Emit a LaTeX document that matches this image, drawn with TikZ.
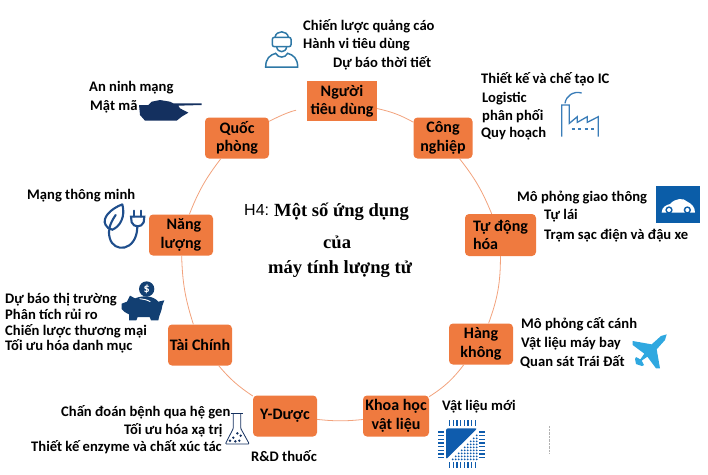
\documentclass[tikz,border=0pt]{standalone}
\usepackage{fontspec}
\setmainfont{Carlito}
\newfontfamily\titlefont{Liberation Serif}
\newfontfamily\labelfont{Liberation Sans}
\definecolor{boxorange}{HTML}{EF7A3F}
\definecolor{ringorange}{HTML}{F2A27C}
\definecolor{personblue}{HTML}{2E78A6}
\definecolor{factoryblue}{HTML}{3A7DB8}
\definecolor{carblue}{HTML}{0B5DA8}
\definecolor{tankblue}{HTML}{14305F}
\definecolor{plugblue}{HTML}{1F4E8C}
\definecolor{pigblue}{HTML}{123F72}
\definecolor{planeblue}{HTML}{2FA8E0}
\definecolor{chipblue}{HTML}{0F5CAD}
\tikzset{
  sector/.style={fill=boxorange, rounded corners=4pt, minimum width=64pt, minimum height=41pt,
    inner sep=0pt, align=center, font=\fontsize{16}{18.5}\selectfont\bfseries},
  topic/.style={anchor=west, inner sep=0pt, text height=12pt, text depth=3pt,
    font=\fontsize{14.6}{16}\selectfont\bfseries},
  headline/.style={anchor=west, inner sep=0pt, font=\fontsize{18.6}{20}\selectfont\titlefont\bfseries},
  ring/.style={ringorange, line width=0.8pt},
}
\begin{document}
\begin{tikzpicture}[x=1pt,y=-1pt]
        \useasboundingbox (0,0) rectangle (708,474);
        % Sectors on the ring:
        \node [sector, rounded corners=0pt, minimum width=70pt, minimum height=40pt] (nguoi) at (342,101) {Người\\tiêu dùng};
        \node [sector, minimum width=59pt] (congnghiep) at (443,138) {Công\\nghiệp};
        \node [sector, minimum width=71pt, minimum height=42pt, align=left] (tudong) at (500.5,235) {Tự động\\hóa};
        \node [sector] (hangkhong) at (481,344) {Hàng\\không};
        \node [sector, minimum width=66pt] (khoahoc) at (396,416) {Khoa học\\vật liệu};
        \node [sector] (yduoc) at (285,416) {Y-Dược};
        \node [sector] (taichinh) at (200,345) {Tài Chính};
        \node [sector, align=right] (nangluong) at (181,235) {Năng\\lượng};
        \node [sector] (quocphong) at (237,138) {Quốc\\phòng};

        % Ring:
        \draw [ring] (nguoi) to[bend left=8] (congnghiep);
        \draw [ring] (congnghiep) to[bend left=8] (tudong);
        \draw [ring] (tudong) to[bend left=10] (hangkhong);
        \draw [ring] (hangkhong) to[bend left=10] (khoahoc);
        \draw [ring] (khoahoc) to[bend left=6] (yduoc);
        \draw [ring] (yduoc) to[bend left=8] (taichinh);
        \draw [ring] (taichinh) to[bend left=8] (nangluong);
        \draw [ring] (nangluong) to[bend left=8] (quocphong);
        \draw [ring, shorten >=11pt] (quocphong) to[bend left=8] (nguoi);

        % Title:
        \node [anchor=west, inner sep=0pt, font=\fontsize{16}{18}\selectfont\labelfont] (hbon) at (244,210) {H4:};
        \node [headline] (tieude) at (274,211.5) {Một số ứng dụng};
        \node [headline] (cua) at (323,242) {của};
        \node [headline] (maytinh) at (268,269.5) {máy tính lượng tử};

        % Topics:
        \node [topic] (chienluoc) at (303,26) {Chiến lược quảng cáo};
        \node [topic] (hanhvi) at (303,44) {Hành vi tiêu dùng};
        \node [topic] (thoitiet) at (333,63) {Dự báo thời tiết};
        \node [topic] (thietke) at (481,79) {Thiết kế và chế tạo IC};
        \node [topic] (logistic) at (482,98) {Logistic};
        \node [topic] (phanphoi) at (482,116) {phân phối};
        \node [topic] (quyhoach) at (481,133) {Quy hoạch};
        \node [topic] (giaothong) at (517,197) {Mô phỏng giao thông};
        \node [topic] (tulai) at (544,215) {Tự lái};
        \node [topic] (tramsac) at (544,235) {Trạm sạc điện và đậu xe};
        \node [topic] (catcanh) at (521,324) {Mô phỏng cất cánh};
        \node [topic] (maybay) at (521,343) {Vật liệu máy bay};
        \node [topic] (traidat) at (520,362) {Quan sát Trái Đất};
        \node [topic] (vatlieu) at (442,406) {Vật liệu mới};
        \node [topic] (rnd) at (251,457) {R\&D thuốc};
        \node [topic] (chandoan) at (61,412) {Chấn đoán bệnh qua hệ gen};
        \node [topic] (xatri) at (124,430) {Tối ưu hóa xạ trị};
        \node [topic] (enzyme) at (31,447) {Thiết kế enzyme và chất xúc tác};
        \node [topic] (thitruong) at (5,299) {Dự báo thị trường};
        \node [topic] (ruiro) at (5,315) {Phân tích rủi ro};
        \node [topic] (thuongmai) at (5,331) {Chiến lược thương mại};
        \node [topic] (danhmuc) at (5,346) {Tối ưu hóa danh mục};
        \node [topic] (thongminh) at (27,195) {Mạng thông minh};
        \node [topic] (anninh) at (89,87) {An ninh mạng};
        \node [topic] (matma) at (90,106) {Mật mã};

        % Person:
        \begin{scope}[shift={(220,0)},scale=1/3,personblue,line width=1.5pt]
        \draw [rounded corners=2pt] (157,112) rectangle (213,140);
        \draw (165,112) .. controls (168,90) and (202,90) .. (205,112);
        \draw (170,140) .. controls (172,160) and (198,160) .. (200,140);
        \draw (137,201) .. controls (137,175) and (150,165) .. (167,160)
            .. controls (175,175) and (195,175) .. (203,160) .. controls (220,165) and (233,175) .. (233,201) -- cycle;
        \end{scope}
        % Factory:
        \begin{scope}[shift={(470,60)},scale=1/3,factoryblue,line width=1.3pt]
        \draw (275,230) -- (275,135) -- (298,135) -- (298,190) -- (322,170) -- (322,187) -- (352,170) -- (352,187) -- (385,170) -- (385,230);
        \draw (285,130) .. controls (288,108) and (310,92) .. (335,99);
        \draw [dash pattern=on 3pt off 3.5pt] (305,207) -- (378,207);
        \end{scope}
        % Car:
        \begin{scope}[shift={(470,60)},scale=1/3]
        \fill [carblue] (558,378) rectangle (690,488);
        \fill [white] (575,458) .. controls (575,440) and (590,435) .. (600,432) .. controls (615,415) and (640,412) .. (652,425)
            .. controls (665,432) and (675,440) .. (675,458) -- cycle;
        \foreach \xw in {597,652}{%
            \fill [carblue] (\xw,450) circle (11);
            \fill [white] (\xw,450) circle (6);
        }
        \end{scope}
        % Tank:
        \begin{scope}[shift={(135,90)},scale=1/3]
        \fill [tankblue] (12,45) -- (40,45) -- (50,35) -- (75,30) -- (105,35) -- (115,40) -- (200,40) -- (200,45) -- (130,47) -- (135,55)
            -- (160,68) -- (140,80) -- (125,92) -- (30,92) -- (15,75) -- cycle;
        \end{scope}
        % Plug:
        \begin{scope}[shift={(95,195)},scale=1/3,plugblue,line width=2.1pt,line cap=round]
        \draw (82,28) .. controls (45,42) and (20,70) .. (32,90) .. controls (36,98) and (42,102) .. (52,104)
            .. controls (75,95) and (92,65) .. (82,28);
        \draw (62,60) .. controls (45,85) and (38,105) .. (44,128) .. controls (55,175) and (125,170) .. (127,96);
        \draw [fill=white] (108,65) -- (148,65) -- (146,82) .. controls (140,98) and (116,98) .. (110,82) -- cycle;
        \draw (118,65) -- (118,47);
        \draw (138,65) -- (138,47);
        \end{scope}
        % Piggy bank:
        \begin{scope}[shift={(115,275)},scale=1/3]
        \fill [pigblue] (20,86) -- (36,80) -- (45,62) -- (60,70) .. controls (85,60) and (115,62) .. (130,80) -- (148,76) -- (142,92)
            .. controls (140,110) and (132,120) .. (130,136) -- (108,136) -- (104,126) -- (68,126) -- (64,136) -- (42,136) -- (42,118)
            .. controls (32,115) and (25,108) .. (20,102) -- cycle;
        \draw [white, line width=0.9pt] (74,71) .. controls (85,72) and (95,74) .. (106,80);
        \fill [pigblue] (95,42) circle (23);
        \node [text=white, inner sep=0pt, font=\fontsize{12}{12}\selectfont\bfseries] (dollar) at (95,42) {\$};
        \end{scope}
        % Flask:
        \begin{scope}[shift={(0,270)},scale=1/3,tankblue,line width=0.8pt]
        \draw (692,430) -- (728,430);
        \draw [rounded corners=1pt] (700,430) -- (700,475) -- (676,522) -- (748,522) -- (722,475) -- (722,430);
        \foreach \xd/\yd in {712/490,700/503,722/497,690/512,718/512,706/514}{%
            \fill (\xd,\yd) circle (4);
        }
        \end{scope}
        % Plane:
        \begin{scope}[shift={(350,290)},scale=1/3]
        \fill [planeblue] (950,133) -- (945,150) -- (920,178) -- (930,235) -- (918,235) -- (892,200) -- (875,212) -- (882,225) -- (876,228)
            -- (858,222) -- (855,207) -- (858,201) -- (871,208) -- (883,191) -- (848,165) -- (848,153) -- (905,163) -- (933,138) -- cycle;
        \end{scope}
        % Chip:
        \begin{scope}[shift={(350,290)},scale=1/3]
        \fill [chipblue, rounded corners=2pt] (288,415) -- (382,415) -- (288,508) -- cycle;
        \foreach \i in {0,...,7}{%
            \fill [chipblue] (297+\i*11,390) rectangle ++(4,18);
            \fill [chipblue] (297+\i*11,515) rectangle ++(4,18);
            \fill [chipblue] (265,424+\i*11) rectangle ++(18,4);
            \fill [chipblue] (388,424+\i*11) rectangle ++(18,4);
        }
        \foreach \i [evaluate=\i as \n using int(8-\i)] in {0,...,8}
            \foreach \j in {0,...,\n}{%
                \fill [chipblue] (380-\i*9,508-\j*9) circle (3);
            }
        \end{scope}
        % Dotted mark:
        \coordinate (marktop) at (549,426);
        \coordinate (markend) at (549,453);
        \draw [gray!60, densely dotted] (marktop) -- (markend);
\end{tikzpicture}
\end{document}
